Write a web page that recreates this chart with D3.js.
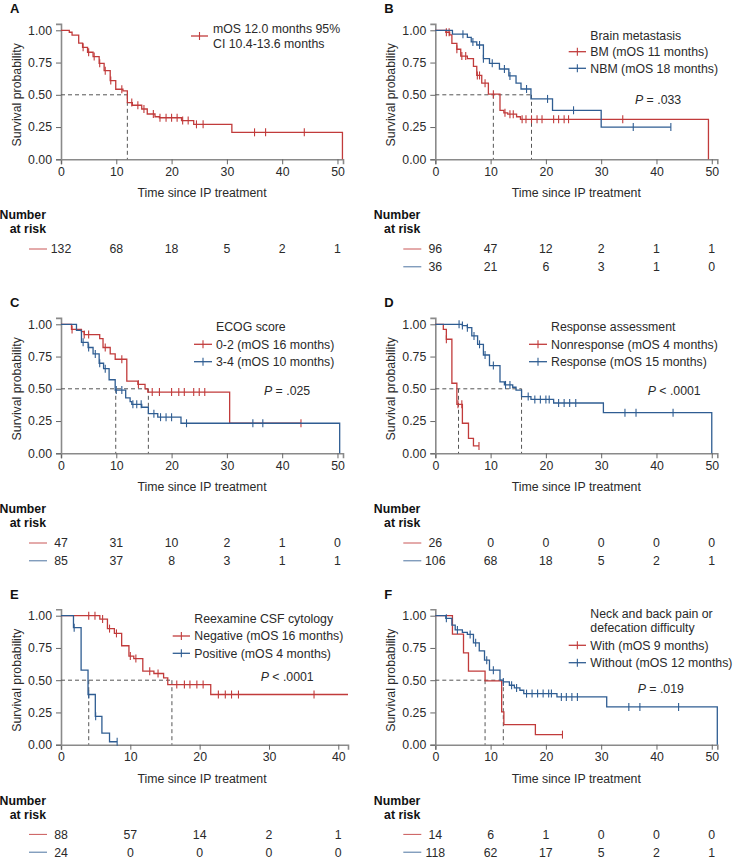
<!DOCTYPE html>
<html><head><meta charset="utf-8">
<script src="https://cdn.jsdelivr.net/npm/d3@7"></script>
<style>body{margin:0;background:#fff} svg text{font-family:"Liberation Sans",Arial,sans-serif;fill:#2a2a2a}</style>
</head><body><svg id="c" width="733" height="860"></svg>
<script>
// ---------- data ----------
const xTicks50 = [0,10,20,30,40,50];
const xTicks40 = [0,10,20,30,40];
const yTicks = [0,0.25,0.5,0.75,1];

// Panel A (all patients)
const aTimes = [1.5,2,3.2,3.9,4.8,5.8,6.9,7.8,8.9,9.9,11.2,12.0,12.9,14.6,15.6,17.0,17.8,21.8,24.0,30.9,50.9];
const aSurv  = [0.985,0.962,0.90,0.868,0.83,0.796,0.744,0.687,0.61,0.543,0.53,0.44,0.419,0.39,0.351,0.33,0.322,0.30,0.271,0.209,0];
const aCens  = [4.0,5.0,6.0,7.0,8.0,9.0,11.0,12.8,13.9,15.0,16.7,17.9,19.0,20.0,21.0,22.0,23.0,24.5,25.7,35,37,44];
const aMed = [12.0];
const aRisk = [[132,68,18,5,2,1]];

// Panel B (brain metastasis)
const bmTimes = [1.9,2.6,3.0,3.9,4.6,5.8,6.9,7.5,8.4,9.6,11.7,12.4,13.1,14.7,15.4,49.4];
const bmSurv  = [0.985,0.965,0.899,0.853,0.80,0.78,0.72,0.65,0.59,0.505,0.38,0.36,0.35,0.33,0.31,0];
const bmCens  = [2.0,2.5,3.9,4.8,5.5,7.6,8.0,9.0,10.5,12.6,13.5,14.1,15.7,16.4,17.4,18.4,19.3,21.4,22.3,23.3,24.1,33.9];
const nbmTimes = [3.1,5.8,6.5,7.5,8.7,9.8,11.6,13.3,14.6,15.5,17.3,21.2,30.0];
const nbmSurv  = [0.97,0.945,0.91,0.886,0.78,0.744,0.70,0.646,0.59,0.545,0.468,0.38,0.25];
const nbmCens  = [5.0,6.8,8.0,8.7,10.3,12.5,13.5,16.5,20.3,25.0,35.8,42.6];
const bMed = [10.5,17.4];
const bRisk = [[96,47,12,2,1,1],[36,21,6,3,1,0]];

// Panel C (ECOG)
const e02Times = [1.9,3.7,4.2,7.0,7.6,8.9,9.8,11.9,13.9,15.2,15.7,30.5];
const e02Surv  = [0.96,0.943,0.92,0.889,0.82,0.77,0.729,0.56,0.535,0.50,0.475,0.233];
const e02Cens  = [2.0,4.2,5.0,8.0,11.0,14.0,16.5,17.8,20.0,21.3,22.3,24.0,25.0,26.0,43.4];
const e34Times = [2.8,3.7,4.9,5.8,6.9,7.7,8.7,9.8,11.7,12.5,12.8,14.6,15.8,17.5,21.7,50.4];
const e34Surv  = [0.953,0.86,0.82,0.77,0.698,0.656,0.57,0.49,0.43,0.40,0.38,0.357,0.307,0.28,0.233,0];
const e34Cens  = [4.0,5.0,6.2,7.0,8.0,10.0,11.0,13.0,13.7,14.5,16.8,18.0,19.0,20.0,22.7,34.7,36.5];
const cMed = [9.9,15.8];
const cRisk = [[47,31,10,2,1,0],[85,37,8,3,1,1]];

// Panel D (response)
const nrTimes = [1.45,2.0,3.0,3.9,4.9,6.0,6.9];
const nrSurv  = [0.96,0.884,0.543,0.38,0.233,0.116,0.057];
const nrCens  = [2.0,4.1,4.8,7.9];
const rTimes = [4.9,5.8,6.6,7.65,8.7,9.8,11.7,12.5,14.0,14.6,15.6,17.3,21.4,30.4,50.0];
const rSurv  = [0.99,0.974,0.91,0.845,0.762,0.68,0.553,0.53,0.512,0.49,0.44,0.418,0.39,0.315,0];
const rCens  = [4.3,4.9,5.8,7.0,8.0,9.0,10.5,12.7,13.5,16.8,18.0,19.0,20.0,20.6,22.3,23.3,24.3,25.4,34.3,36.3,43.0];
const dMed = [4.2,15.6];
const dRisk = [[26,0,0,0,0,0],[106,68,18,5,2,1]];

// Panel E (CSF cytology)
const negTimes = [5.6,6.7,7.7,8.75,9.8,10.5,11.8,13.4,14.8,15.4,21.6];
const negSurv  = [0.974,0.90,0.863,0.767,0.687,0.668,0.57,0.552,0.518,0.466,0.389];
const negCens  = [4.0,4.9,6.0,7.0,8.0,10.0,10.8,12.8,14.0,16.7,17.8,18.6,19.6,20.5,22.7,23.7,24.6,25.6,36.5];
const posTimes = [1.8,2.9,3.9,4.95,5.9,7.0];
const posSurv  = [0.907,0.578,0.389,0.22,0.09,0.023];
const posCens  = [1.9,4.0,5.0,8.1];
const eMed = [4.0,16.0];
const eRisk = [[88,57,14,2,1],[24,0,0,0,0]];

// Panel F (neck/back pain)
const wTimes = [3.1,5.1,6.0,9.0,12.0,12.4,18.1];
const wSurv  = [0.857,0.712,0.57,0.495,0.254,0.155,0.078];
const wCens  = [23.0];
const woTimes = [1.9,3.0,3.6,4.9,5.8,6.9,7.95,8.9,9.8,11.7,12.3,13.4,14.3,15.3,16.0,22.0,31.0,51.0];
const woSurv  = [0.98,0.927,0.89,0.87,0.855,0.79,0.728,0.655,0.578,0.50,0.487,0.461,0.44,0.422,0.396,0.37,0.293,0];
const woCens  = [2.0,4.0,6.3,7.3,9.3,10.5,12.3,13.8,14.7,16.5,17.5,18.5,19.5,20.5,21.0,22.8,23.7,24.7,25.7,35,37,44];
const fMed = [9.0,12.3];
const fRisk = [[14,6,1,0,0,0],[118,62,17,5,2,1]];

// ---------- drawing ----------
const RED = "#c13b3b", BLUE = "#2f5d92";
const FS = 12.3;
const svg = d3.select("#c");

function survAt(times, surv, t){
  let s = 1;
  for (let i=0;i<times.length;i++){ if (times[i] <= t) s = surv[i]; }
  return s;
}

function panel(cfg){
  const g = svg.append("g");
  const y0 = cfg.y1 + 129;
  const x = d3.scaleLinear().domain([0, cfg.xMax]).range([cfg.ox, cfg.ox + cfg.xPx]);
  const y = d3.scaleLinear().domain([0, 1.05]).range([y0, y0 - 129*1.05]);

  // axes
  const gx = g.append("g").attr("transform", `translate(0,${y0})`)
    .call(d3.axisBottom(x).tickValues(cfg.xTicks).tickSizeOuter(0).tickSize(5).tickPadding(3));
  const gy = g.append("g").attr("transform", `translate(${cfg.ox},0)`)
    .call(d3.axisLeft(y).tickValues(yTicks).tickFormat(d3.format(".2f")).tickSizeOuter(0).tickSize(5).tickPadding(4));
  [gx, gy].forEach(a => {
    a.select(".domain").attr("stroke", "#8a8a8a").attr("stroke-width", 1.6);
    a.selectAll(".tick line").attr("stroke", "#666");
    a.selectAll(".tick text").attr("font-size", FS).attr("fill", "#2a2a2a")
      .style("font-family", '"Liberation Sans",Arial,sans-serif');
  });

  // titles
  g.append("text").attr("x", cfg.ox + 141).attr("y", y0 + 38).attr("text-anchor", "middle")
    .attr("font-size", FS).text("Time since IP treatment");
  g.append("text").attr("transform", `translate(${cfg.ox - 40},${(y0 + y(1))/2}) rotate(-90)`)
    .attr("text-anchor", "middle").attr("font-size", FS).text("Survival probability");
  g.append("text").attr("x", cfg.ox - 51).attr("y", cfg.y1 - 17).attr("font-size", 13)
    .attr("font-weight", "bold").style("fill", "#111").text(cfg.label);

  // median lines
  const mMax = d3.max(cfg.medians);
  g.append("line").attr("x1", x(0)).attr("x2", x(mMax)).attr("y1", y(0.5)).attr("y2", y(0.5))
    .attr("stroke", "#555").attr("stroke-dasharray", "4,3").attr("stroke-width", 1);
  cfg.medians.forEach(m => {
    g.append("line").attr("x1", x(m)).attr("x2", x(m)).attr("y1", y(0.5)).attr("y2", y(0))
      .attr("stroke", "#555").attr("stroke-dasharray", "4,3").attr("stroke-width", 1);
  });

  // curves
  const line = d3.line().x(d => x(d[0])).y(d => y(d[1])).curve(d3.curveStepAfter);
  cfg.series.forEach(s => {
    const pts = [[0,1]];
    s.times.forEach((t,i) => pts.push([t, s.surv[i]]));
    const lastT = s.times[s.times.length-1];
    const end = Math.max(lastT, s.end !== undefined ? s.end : lastT, d3.max(s.cens) || 0);
    if (end > lastT) pts.push([end, s.surv[s.surv.length-1]]);
    g.append("path").attr("d", line(pts)).attr("fill", "none").attr("stroke", s.color)
      .attr("stroke-width", 1.3);
    g.selectAll(null).data(s.cens).join("line")
      .attr("x1", d => x(d)).attr("x2", d => x(d))
      .attr("y1", d => y(survAt(s.times, s.surv, d)) - 4)
      .attr("y2", d => y(survAt(s.times, s.surv, d)) + 4)
      .attr("stroke", s.color).attr("stroke-width", 1.1);
  });

  // legend
  const L = cfg.legend;
  L.header.forEach((h,i) => {
    g.append("text").attr("x", L.tx).attr("y", L.hy[i]).attr("dy", "0.35em").attr("font-size", FS).text(h);
  });
  L.entries.forEach((e,i) => {
    g.append("line").attr("x1", L.lx0).attr("x2", L.lx1).attr("y1", e.ly).attr("y2", e.ly)
      .attr("stroke", cfg.series[i].color).attr("stroke-width", 1.3);
    g.append("line").attr("x1", (L.lx0+L.lx1)/2).attr("x2", (L.lx0+L.lx1)/2)
      .attr("y1", e.ly-4).attr("y2", e.ly+4).attr("stroke", cfg.series[i].color).attr("stroke-width", 1.1);
    e.lines.forEach((t,j) => {
      g.append("text").attr("x", L.tx).attr("y", e.ty[j]).attr("dy", "0.35em").attr("font-size", FS).text(t);
    });
  });
  if (cfg.p){
    const t = g.append("text").attr("x", cfg.p.x).attr("y", cfg.p.y).attr("dy", "0.35em").attr("font-size", FS);
    t.append("tspan").attr("font-style", "italic").text("P");
    t.append("tspan").text(cfg.p.text);
  }

  // number at risk
  g.append("text").attr("x", cfg.ox - 15).attr("y", y0 + 60).attr("text-anchor", "end")
    .attr("font-size", FS).attr("font-weight", "bold").style("fill", "#111").text("Number");
  g.append("text").attr("x", cfg.ox - 15).attr("y", y0 + 74).attr("text-anchor", "end")
    .attr("font-size", FS).attr("font-weight", "bold").style("fill", "#111").text("at risk");
  cfg.risk.forEach((row,i) => {
    const ry = y0 + 89.7 + i*17.8;
    g.append("line").attr("x1", cfg.ox - 32).attr("x2", cfg.ox - 14).attr("y1", ry).attr("y2", ry)
      .attr("stroke", cfg.series[i].color).attr("stroke-width", 1).attr("opacity", 0.85);
    g.selectAll(null).data(row).join("text")
      .attr("x", (d,j) => x(cfg.xTicks[j])).attr("y", ry).attr("dy", "0.35em")
      .attr("text-anchor", "middle").attr("font-size", FS).text(d => d);
  });
}

panel({label:"A", ox:61, y1:30.3, xMax:51, xPx:282, xTicks:xTicks50,
  series:[{times:aTimes, surv:aSurv, cens:aCens, color:RED}],
  medians:aMed, risk:aRisk,
  legend:{header:[], hy:[], tx:213, lx0:191, lx1:208,
    entries:[{ly:36, lines:["mOS 12.0 months 95%","CI 10.4-13.6 months"], ty:[29,43.5]}]}
});
panel({label:"B", ox:435.3, y1:30.3, xMax:51, xPx:282, xTicks:xTicks50,
  series:[{times:bmTimes, surv:bmSurv, cens:bmCens, color:RED},
          {times:nbmTimes, surv:nbmSurv, cens:nbmCens, color:BLUE}],
  medians:bMed, risk:bRisk,
  legend:{header:["Brain metastasis"], hy:[35.7], tx:590.3, lx0:568.7, lx1:586,
    entries:[{ly:51.7, lines:["BM (mOS 11 months)"], ty:[51.7]},
             {ly:68.3, lines:["NBM (mOS 18 months)"], ty:[68.3]}]},
  p:{x:635, y:100, text:" = .033"}
});
panel({label:"C", ox:61, y1:324.3, xMax:51, xPx:282, xTicks:xTicks50,
  series:[{times:e02Times, surv:e02Surv, cens:e02Cens, color:RED},
          {times:e34Times, surv:e34Surv, cens:e34Cens, color:BLUE}],
  medians:cMed, risk:cRisk,
  legend:{header:["ECOG score"], hy:[326.7], tx:216, lx0:194, lx1:212,
    entries:[{ly:344.3, lines:["0-2 (mOS 16 months)"], ty:[344.3]},
             {ly:361.7, lines:["3-4 (mOS 10 months)"], ty:[361.7]}]},
  p:{x:264, y:391, text:" = .025"}
});
panel({label:"D", ox:435.3, y1:324.3, xMax:51, xPx:282, xTicks:xTicks50,
  series:[{times:nrTimes, surv:nrSurv, cens:nrCens, color:RED},
          {times:rTimes, surv:rSurv, cens:rCens, color:BLUE}],
  medians:dMed, risk:dRisk,
  legend:{header:["Response assessment"], hy:[326.7], tx:551, lx0:529, lx1:547,
    entries:[{ly:344.3, lines:["Nonresponse (mOS 4 months)"], ty:[344.3]},
             {ly:361.7, lines:["Response (mOS 15 months)"], ty:[361.7]}]},
  p:{x:647.7, y:391, text:" < .0001"}
});
panel({label:"E", ox:61, y1:615.7, xMax:41.4, xPx:287, xTicks:xTicks40,
  series:[{times:negTimes, surv:negSurv, cens:negCens, end:41.4, color:RED},
          {times:posTimes, surv:posSurv, cens:posCens, color:BLUE}],
  medians:eMed, risk:eRisk,
  legend:{header:["Reexamine CSF cytology"], hy:[619], tx:194.3, lx0:172.7, lx1:190,
    entries:[{ly:636, lines:["Negative (mOS 16 months)"], ty:[636]},
             {ly:653.3, lines:["Positive (mOS 4 months)"], ty:[653.3]}]},
  p:{x:260.7, y:676.7, text:" < .0001"}
});
panel({label:"F", ox:435.3, y1:615.7, xMax:51, xPx:282, xTicks:xTicks50,
  series:[{times:wTimes, surv:wSurv, cens:wCens, color:RED},
          {times:woTimes, surv:woSurv, cens:woCens, color:BLUE}],
  medians:fMed, risk:fRisk,
  legend:{header:["Neck and back pain or","defecation difficulty"], hy:[613.3,627.3], tx:590.3, lx0:568.7, lx1:586,
    entries:[{ly:645.3, lines:["With (mOS 9 months)"], ty:[645.3]},
             {ly:662.7, lines:["Without (mOS 12 months)"], ty:[662.7]}]},
  p:{x:637.7, y:689, text:" = .019"}
});
</script></body></html>
